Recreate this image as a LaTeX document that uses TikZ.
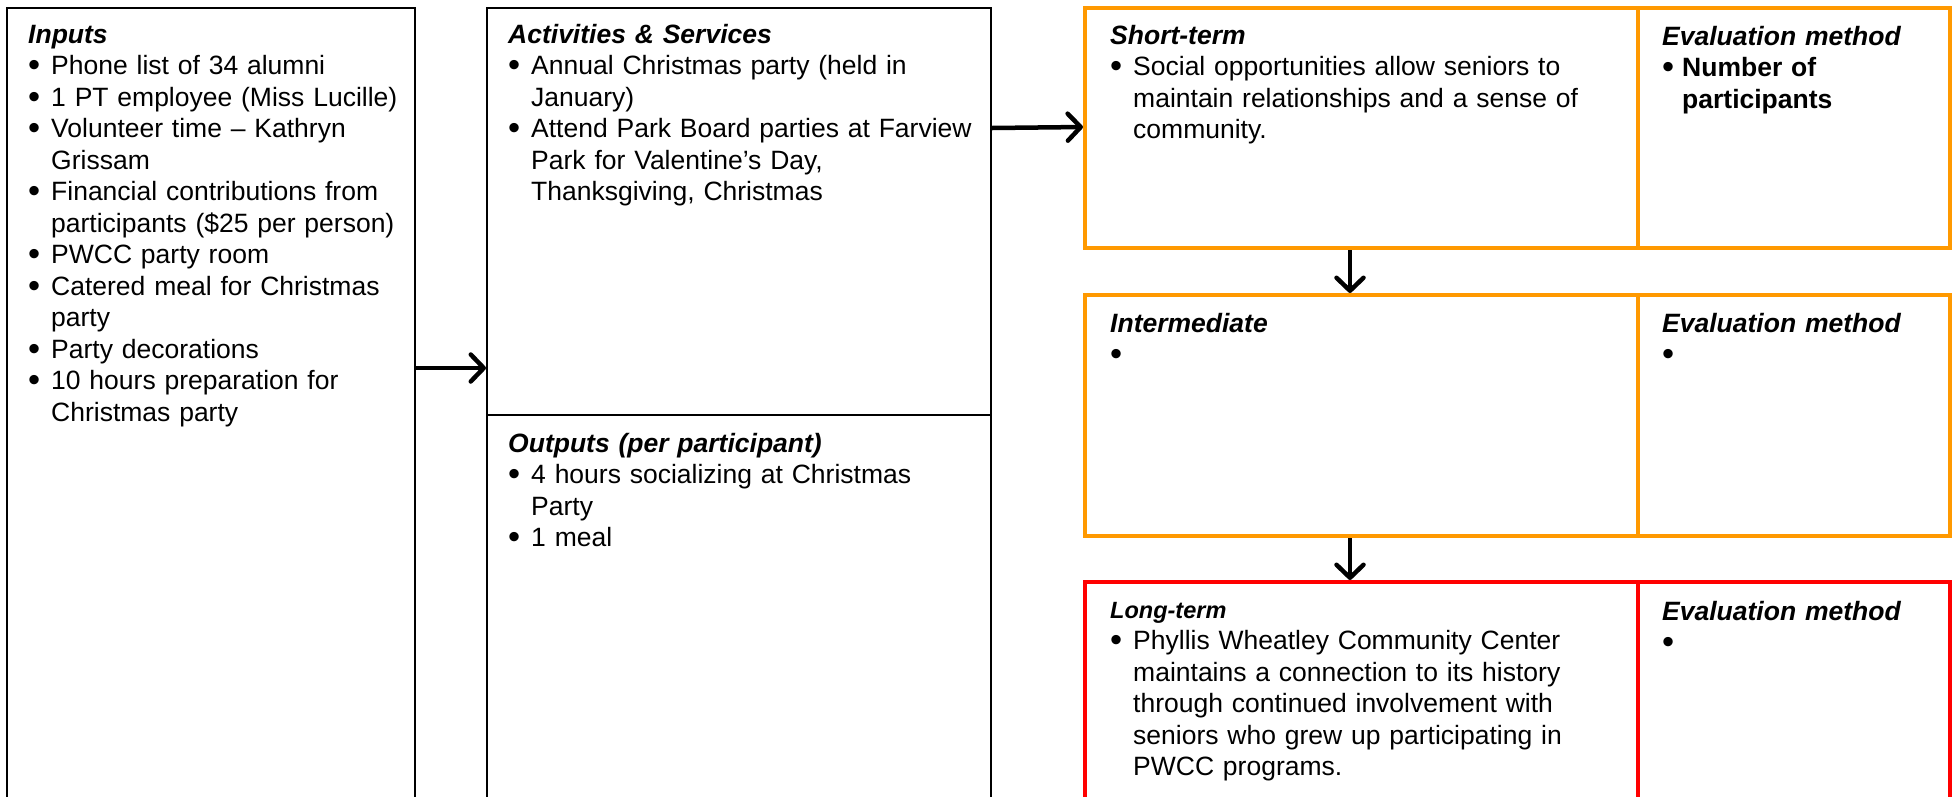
\documentclass[tikz,border=0pt]{standalone}
\usepackage{fontspec}
\setmainfont{Liberation Sans}
\usetikzlibrary{arrows.meta}
\definecolor{boxorange}{RGB}{255,153,0}
\definecolor{boxred}{RGB}{255,0,0}
\newcommand\bodyfs{\fontsize{26.5}{31.5}\selectfont}
\newcommand\smallhd{\fontsize{23.5}{31.5}\selectfont}
\newcommand\hd[1]{\rule{0pt}{30pt}\textbf{\textit{#1}}}
\newcommand\bigbul{\raisebox{-2.2pt}{\scalebox{1.3}{\textbullet}}}
\newcommand\bitem[2][23pt]{\par\noindent\hangindent=#1\hangafter=1\makebox[#1][l]{\bigbul}#2}
\tikzset{
  blackbox/.style={draw=black, line width=2pt, inner sep=0pt},
  orangebox/.style={draw=boxorange, line width=4pt, inner sep=0pt},
  redbox/.style={draw=boxred, line width=4pt, inner sep=0pt},
  txt/.style={anchor=north west, inner sep=0pt, font=\bodyfs},
  arr/.style={line width=4.5pt, -{Straight Barb[length=13pt, width=27pt, round]}},
}
\begin{document}
\begin{tikzpicture}[x=1pt, y=-1pt]
\useasboundingbox (0,0) rectangle (1960,796);
\clip (0,0) rectangle (1960,796);
\fill[white] (0,0) rectangle (1960,796);
% boxes
\node[blackbox, minimum width=408pt, minimum height=822pt] (inputs) at (211,419) {};
\node[blackbox, minimum width=504pt, minimum height=407pt] (acts) at (739,211.5) {};
\node[blackbox, minimum width=504pt, minimum height=415pt] (outs) at (739,622.5) {};
\node[orangebox, minimum width=553pt, minimum height=240pt] (st) at (1361.5,128) {};
\node[orangebox, minimum width=312pt, minimum height=240pt] (ev1) at (1794,128) {};
\node[orangebox, minimum width=553pt, minimum height=241pt] (im) at (1361.5,415.5) {};
\node[orangebox, minimum width=312pt, minimum height=241pt] (ev2) at (1794,415.5) {};
\node[redbox, minimum width=553pt, minimum height=248pt] (lt) at (1361.5,706) {};
\node[redbox, minimum width=312pt, minimum height=248pt] (ev3) at (1794,706) {};
% texts
\node[txt, text width=380pt] (inputsT) at (28,13) {\raggedright\noindent\hd{Inputs}
\bitem{Phone list of 34 alumni}
\bitem{1 PT employee (Miss Lucille)}
\bitem{Volunteer time – Kathryn\newline Grissam}
\bitem{Financial contributions from\newline participants (\$25 per person)}
\bitem{PWCC party room}
\bitem{Catered meal for Christmas\newline party}
\bitem{Party decorations}
\bitem{10 hours preparation for\newline Christmas party}\par};
\node[txt, text width=475pt] (actsT) at (508,13) {\raggedright\noindent\hd{Activities \& Services}
\bitem{Annual Christmas party (held in\newline January)}
\bitem{Attend Park Board parties at Farview\newline Park for Valentine’s Day,\newline Thanksgiving, Christmas}\par};
\node[txt, text width=475pt] (outsT) at (508,422) {\raggedright\noindent\hd{Outputs (per participant)}
\bitem{4 hours socializing at Christmas\newline Party}
\bitem{1 meal}\par};
\node[txt, text width=520pt] (stT) at (1110,14) {\raggedright\noindent\hd{Short-term}
\bitem{Social opportunities allow seniors to\newline maintain relationships and a sense of\newline community.}\par};
\node[txt, text width=280pt] (ev1T) at (1662,15) {\raggedright\noindent\hd{Evaluation method}
\bitem[20pt]{\textbf{Number of\newline participants}}\par};
\node[txt, text width=520pt] (imT) at (1110,302) {\raggedright\noindent\hd{Intermediate}
\bitem{\strut}\par};
\node[txt, text width=280pt] (ev2T) at (1662,302) {\raggedright\noindent\hd{Evaluation method}
\bitem[20pt]{\strut}\par};
\node[txt, text width=520pt] (ltT) at (1110,588) {\raggedright\noindent{\smallhd\hd{Long-term}}
\bitem{Phyllis Wheatley Community Center\newline maintains a connection to its history\newline through continued involvement with\newline seniors who grew up participating in\newline PWCC programs.}\par};
\node[txt, text width=280pt] (ev3T) at (1662,590) {\raggedright\noindent\hd{Evaluation method}
\bitem[20pt]{\strut}\par};
% arrows
\draw[arr] ([yshift=-361pt]inputs.north east) -- ([yshift=-361pt]acts.north west);
\draw[arr] ([yshift=-121pt]acts.north east) -- ([yshift=-121pt]st.north west);
\draw[arr] ([xshift=267pt]st.south west) -- ([xshift=267pt]im.north west);
\draw[arr] ([xshift=267pt]im.south west) -- ([xshift=267pt]lt.north west);
\end{tikzpicture}
\end{document}
